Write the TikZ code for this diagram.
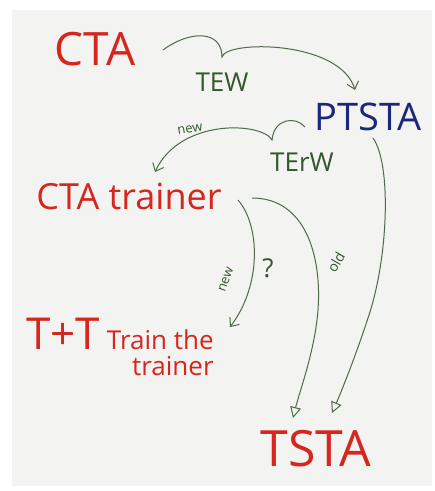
\documentclass[tikz,border=0pt]{standalone}
\usepackage{fontspec}
\setmainfont{Open Sans}
\usetikzlibrary{arrows.meta, positioning}
\usepackage{xcolor}
\definecolor{markerred}{RGB}{214,38,32}
\definecolor{markerblue}{RGB}{28,38,122}
\definecolor{markergreen}{RGB}{48,88,42}
\definecolor{linkgreen}{RGB}{78,106,70}
\definecolor{paper}{RGB}{243,243,241}

\tikzset{
    word/.style={inner sep=0pt, font=\fontsize{#1}{#1}\selectfont},
    redword/.style={word=#1, text=markerred},
    link/.style={draw=linkgreen, line width=1pt},
    tip/.style={-{Straight Barb[length=7pt, width=12pt]}},
    bigtip/.style={-{Triangle[open, length=11pt, width=11pt, fill=paper]}},
    note/.style={word=#1, text=markergreen}
}

\begin{document}
\begin{tikzpicture}[x=1pt, y=-1pt]
    \useasboundingbox (0,0) rectangle (435,491);
    \fill[white] (0,0) rectangle (435,491);
    \fill[paper] (12,10) rectangle (432,486);

    \node (cta) [redword=46] at (95,49) {CTA};
    \node (ptsta) [word=38, text=markerblue] at (368,117) {PTSTA};
    \node (ctatrainer) [redword=36] at (129,196) {CTA trainer};
    \node (tt) [redword=26, align=right] at (120,347)
        {{\fontsize{44}{44}\selectfont T+T} Train the\\trainer};
    \node (tsta) [redword=50] at (316,449) {TSTA};

    \node (tew) [note=26] at (222,82) {TEW};
    \node (terw) [note=26] at (302,162) {TErW};
    \node (newtop) [note=13, rotate=10] at (190,129) {new};
    \node (newleft) [note=13, rotate=70] at (226,280) {new};
    \node (what) [note=26] at (268,268) {?};
    \node (oldlbl) [note=14, rotate=60] at (336,262) {old};

    \draw [link, tip] ([shift={(68,1)}]cta.center)
        .. controls (190,30) and (222,30) .. (222,57)
        .. controls (226,40) and (340,40) .. ([shift={(-13,-27)}]ptsta.center);
    \draw [link, tip] ([shift={(-63,10)}]ptsta.center)
        .. controls (296,116) and (274,118) .. (272,140)
        .. controls (262,122) and (180,118) .. ([shift={(26,-24)}]ctatrainer.center);
    \draw [link, tip] ([shift={(109,4)}]ctatrainer.center)
        .. controls (260,225) and (262,285) .. ([shift={(110,-20)}]tt.center);
    \draw [link, bigtip] ([shift={(123,2)}]ctatrainer.center)
        .. controls (305,198) and (322,255) .. (318,310)
        .. controls (315,350) and (300,390) .. ([shift={(-23,-31)}]tsta.center);
    \draw [link, bigtip] ([shift={(5,21)}]ptsta.center)
        .. controls (392,165) and (388,260) .. (368,318)
        .. controls (356,355) and (342,390) .. ([shift={(16,-36)}]tsta.center);
\end{tikzpicture}
\end{document}
